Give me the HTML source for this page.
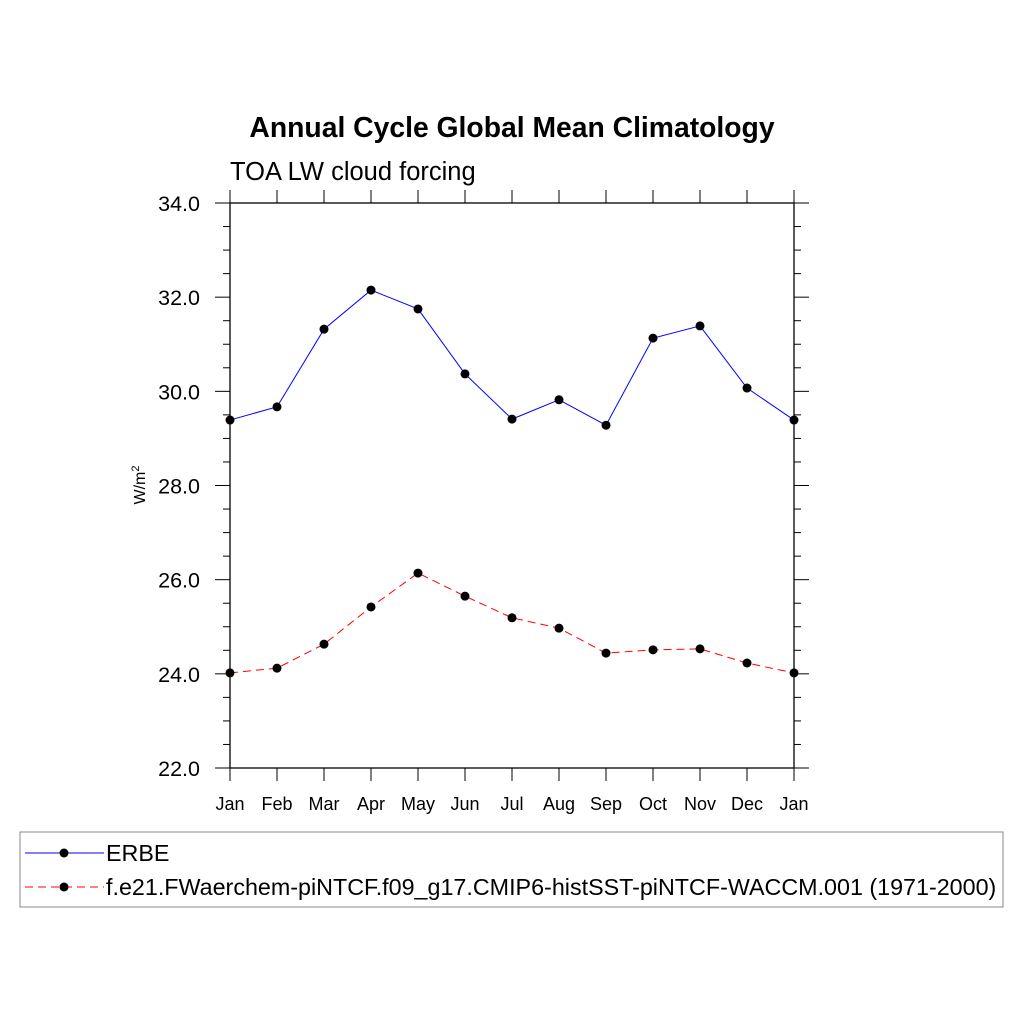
<!DOCTYPE html>
<html><head><meta charset="utf-8"><style>body{margin:0;background:#fff}svg{display:block;font-family:"Liberation Sans",Arial,sans-serif}</style></head>
<body>
<svg id="chart" width="1024" height="1024">
<text x="512" y="137" text-anchor="middle" font-size="28.3" font-weight="bold">Annual Cycle Global Mean Climatology</text>
<text x="230" y="180" font-size="25.5">TOA LW cloud forcing</text>
<text transform="translate(145,485) rotate(-90)" text-anchor="middle" font-size="16">W/m<tspan dy="-6" font-size="11">2</tspan></text>
<g id="axes"></g><g id="series"></g>
<rect x="20" y="832" width="983" height="75" fill="none" stroke="#888"/>
<g>
<line x1="25" y1="853" x2="104" y2="853" stroke="#00f" stroke-width="1"/>
<circle cx="64" cy="853" r="4.5" fill="#000"/>
<text x="106" y="861" font-size="23.3">ERBE</text></g>
<g>
<line x1="25" y1="887" x2="104" y2="887" stroke="#f00" stroke-dasharray="8,5"/>
<circle cx="64" cy="887" r="4.5" fill="#000"/>
<text x="106" y="895" font-size="23.3">f.e21.FWaerchem-piNTCF.f09_g17.CMIP6-histSST-piNTCF-WACCM.001 (1971-2000)</text></g>
</svg>
<script>
const months=["Jan","Feb","Mar","Apr","May","Jun","Jul","Aug","Sep","Oct","Nov","Dec","Jan"];
const erbe=[29.39,29.67,31.32,32.15,31.75,30.37,29.41,29.82,29.28,31.13,31.39,30.07,29.39];
const model=[24.02,24.12,24.63,25.42,26.14,25.65,25.19,24.97,24.44,24.51,24.53,24.23,24.02];
const yTicks=["22.0","24.0","26.0","28.0","30.0","32.0","34.0"];
const NS="http://www.w3.org/2000/svg";
const X0=230,X1=794,Y0=768,Y1=203,YMIN=22,YMAX=34;
const xs=i=>X0+(X1-X0)*i/(months.length-1);
const ys=v=>Y0-(Y0-Y1)*(v-YMIN)/(YMAX-YMIN);
function mk(t,a,p){const e=document.createElementNS(NS,t);for(const k in a)e.setAttribute(k,a[k]);p.appendChild(e);return e;}
const ax=document.getElementById('axes'),se=document.getElementById('series');
const fr=mk('rect',{x:X0,y:Y1,width:X1-X0,height:Y0-Y1,fill:'none',stroke:'#000','stroke-width':1.3},ax);


for(let v=YMIN;v<=YMAX+1e-9;v+=0.5){const y=ys(v);const maj=Math.abs(v%2)<1e-9;const L=maj?15:7;
mk('line',{x1:X0-L,y1:y,x2:X0,y2:y,stroke:'#000'},ax);mk('line',{x1:X1,y1:y,x2:X1+L,y2:y,stroke:'#000'},ax);}
yTicks.forEach(t=>{const e=mk('text',{x:X0-30,y:ys(parseFloat(t))+8,'text-anchor':'end','font-size':21.5},ax);e.textContent=t;

});
months.forEach((m,i)=>{const x=xs(i);mk('line',{x1:x,y1:Y0,x2:x,y2:Y0+13,stroke:'#000'},ax);mk('line',{x1:x,y1:Y1-13,x2:x,y2:Y1,stroke:'#000'},ax);
const e=mk('text',{x:x,y:810,'text-anchor':'middle','font-size':18},ax);e.textContent=m;

});
function draw(d,col,dash,name){const g=mk('g',{},se);


const a={points:d.map((v,i)=>xs(i)+','+ys(v)).join(' '),fill:'none',stroke:col,'stroke-width':1};if(dash)a['stroke-dasharray']=dash;mk('polyline',a,g);
d.forEach((v,i)=>{const c=mk('circle',{cx:xs(i),cy:ys(v),r:4.5,fill:'#000'},g);

});}
draw(erbe,'#00f',null,'erbe-series');
draw(model,'#f00','8,5','model-series');
</script>
</body></html>
